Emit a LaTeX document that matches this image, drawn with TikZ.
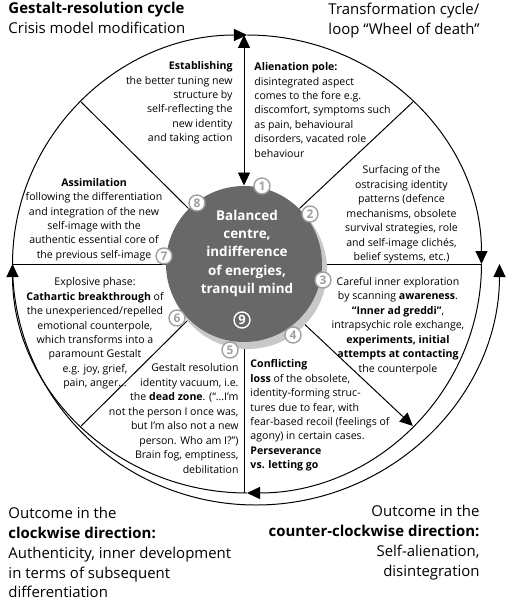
\documentclass[tikz,border=0pt]{standalone}
\usepackage{fontspec}
\setmainfont{Open Sans}
\usetikzlibrary{arrows.meta}
\definecolor{hubgray}{RGB}{104,104,104}
\definecolor{shadegray}{RGB}{200,200,200}
\definecolor{numgray}{RGB}{160,160,160}

\begin{document}
\begin{tikzpicture}[x=10bp,y=10bp,line width=1pt,
		tip/.style={-{Triangle[length=13bp,width=12bp]}},
		twotip/.style={{Triangle[length=13bp,width=12bp]}-{Triangle[length=13bp,width=12bp]}},
		txt/.style={inner sep=0pt,font=\fontsize{10.6}{14.5}\selectfont},
		big/.style={inner sep=0pt,font=\fontsize{15}{20}\selectfont},
		num/.style={circle,draw=numgray,fill=white,text=numgray,line width=1.4pt,minimum size=16bp,inner sep=0pt,font=\fontsize{12}{12}\selectfont\bfseries}]
	\useasboundingbox (-24.7,-33.6) rectangle (26.1,26.4);
	% wheel
	\path
	(90:23.45 and 22.9) coordinate (wtop)
	(0:23.45 and 22.9) coordinate (wright)
	(-90:23.45 and 22.9) coordinate (wbot)
	(180:23.45 and 22.9) coordinate (wleft)
	(45:23.45 and 22.9) coordinate (wne)
	(135:23.45 and 22.9) coordinate (wnw)
	(-45:23.45 and 22.9) coordinate (wse)
	(-135:23.45 and 22.9) coordinate (wsw)
	;
	\foreach \s/\e/\c in {180/90/wleft,90/0/wtop,0/-90/wright,-90/-180/wbot}
	\draw[tip] (\c) arc[start angle=\s,end angle=\e,x radius=23.45,y radius=22.9];
	\draw[tip] (wleft) arc[start angle=180,end angle=360,x radius=24.35,y radius=24.1];
	% spokes
	\node[circle,minimum size=156bp,inner sep=0pt] (hub) at (-0.3,0) {};
	\draw[twotip] (hub.north) -- (hub.north |- wtop);
	\draw (hub.south) -- (hub.south |- wbot);
	\draw (hub.west) -- (wleft);
	\draw (hub.east) -- (wright);
	\draw (hub.45) -- (wne);
	\draw (hub.135) -- (wnw);
	\draw (hub.-135) -- (wsw);
	\draw[tip] (hub.-45) -- (wse);
	\fill[shadegray] (0.1,-0.6) circle (7.9);
	\fill[hubgray] (hub) circle (7.8);
	\node[align=center,text=white,font=\fontsize{13.5}{18.5}\selectfont\bfseries] (calm) at (0,1.05) {Balanced\\centre,\\indifference\\of energies,\\tranquil mind};
	\foreach \n/\x/\y in {1/1.5/7.8,2/6.3/5.0,3/7.6/-1.6,4/4.6/-7.1,5/-1.7/-8.6,6/-7.0/-5.4,7/-8.3/0.8,8/-5.0/6.1}
	\node[num] (n\n) at (\x,\y) {\n};
	\node[num,draw=white,fill=none,text=white,font=\fontsize{13}{13}\selectfont\bfseries] (n9) at (-0.5,-5.6) {9};
	% phases
	\node[txt,anchor=east,align=right] (establish) at (-1.4,16.1) {\textbf{Establishing}\\the better tuning new\\structure by\\self-reflecting the\\new identity\\and taking action};
	\node[txt,anchor=west,align=left] (alien) at (0.7,15.4) {\textbf{Alienation pole:}\\disintegrated aspect\\comes to the fore e.g.\\discomfort, symptoms such\\as pain, behavioural\\disorders, vacated role\\behaviour};
	\node[txt,align=center] (surface) at (15.45,4.95) {Surfacing of the\\ostracising identity\\patterns (defence\\mechanisms, obsolete\\survival strategies, role\\and self-image clichés,\\belief systems, etc.)};
	\node[txt,align=center] (explore) at (15.1,-6.2) {Careful inner exploration\\by scanning \textbf{awareness}.\\\textbf{“Inner ad greddi”},\\intrapsychic role exchange,\\\textbf{experiments, initial}\\\textbf{attempts at contacting}\\the counterpole};
	\node[txt,anchor=west,align=left] (conflict) at (0.3,-15.15) {\textbf{Conflicting}\\\textbf{loss} of the obsolete,\\identity-forming struc-\\tures due to fear, with\\fear-based recoil (feelings of\\agony) in certain cases.\\\textbf{Perseverance}\\\textbf{vs. letting go}};
	\node[txt,anchor=east,align=right] (vacuum) at (-0.8,-15.45) {Gestalt resolution\\identity vacuum, i.e.\\the \textbf{dead zone}. (“…I'm\\not the person I once was,\\but I'm also not a new\\person. Who am I?”)\\Brain fog, emptiness,\\debilitation};
	\node[txt,align=center] (explode) at (-15.2,-6.95) {Explosive phase:\\\textbf{Cathartic breakthrough} of\\the unexperienced/repelled\\emotional counterpole,\\which transforms into a\\paramount Gestalt\\e.g. joy, grief,\\pain, anger…};
	\node[txt,align=center] (assim) at (-15.3,4.45) {\textbf{Assimilation}\\following the differentiation\\and integration of the new\\self-image with the\\authentic essential core of\\the previous self-image};
	% corners
	\node[big,anchor=west,align=left] (title) at (-23.9,24.6) {\textbf{Gestalt-resolution cycle}\\Crisis model modification};
	\node[big,anchor=west,align=left] (loop) at (8.1,24.3) {Transformation cycle/\\loop “Wheel of death”};
	\node[big,anchor=west,align=left] (cw) at (-23.9,-28.85) {Outcome in the\\\textbf{clockwise direction:}\\Authenticity, inner development\\in terms of subsequent\\differentiation};
	\node[big,anchor=east,align=right] (ccw) at (23.3,-27.85) {Outcome in the\\\textbf{counter-clockwise direction:}\\Self-alienation,\\disintegration};
\end{tikzpicture}
\end{document}
